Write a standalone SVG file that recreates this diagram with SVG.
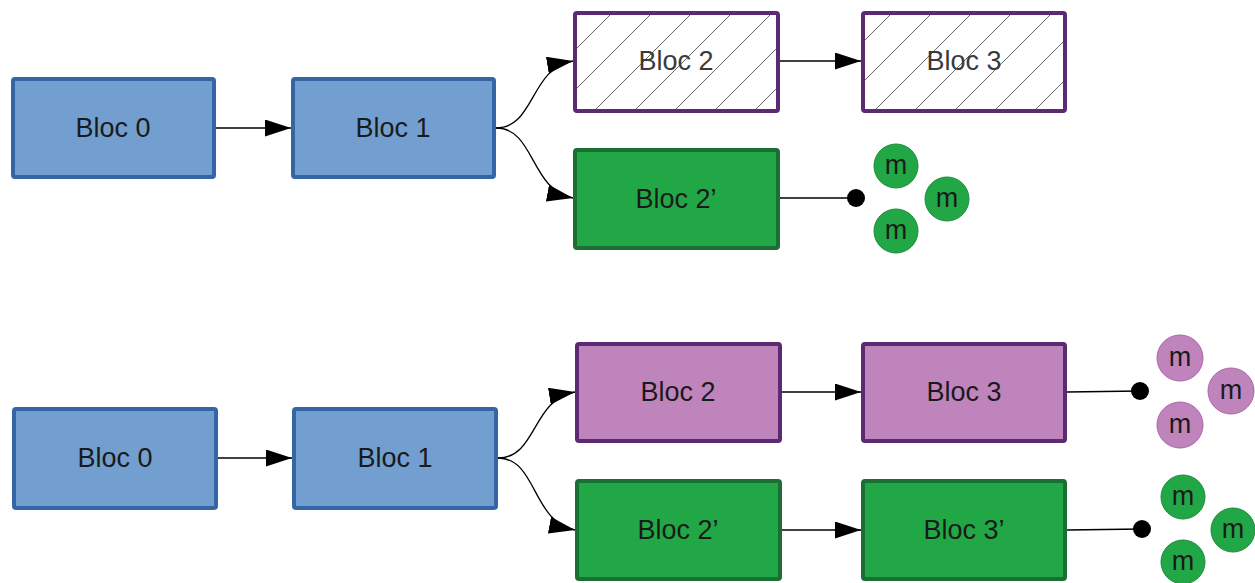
<svg xmlns="http://www.w3.org/2000/svg" width="1255" height="583" viewBox="0 0 1255 583">
<style>
.blue{fill:#729fcf;stroke:#3465a4;stroke-width:4}
.purple{fill:#c084bc;stroke:#5c2a72;stroke-width:4}
.hatch{fill:url(#hatch);stroke:#5c2a72;stroke-width:4}
.green{fill:#22a746;stroke:#1b6e34;stroke-width:4}
.t{font-family:"Liberation Sans",Arial,sans-serif;font-size:27px;fill:#1a1a1a;text-anchor:middle;dominant-baseline:central}
.tg{fill:#3a3a3a}
.m{font-family:"Liberation Sans",Arial,sans-serif;font-size:27px;fill:#1a1a1a;text-anchor:middle;dominant-baseline:central}
.cg{fill:#22a746;stroke:#1e8a3c;stroke-width:1}
.cp{fill:#c084bc;stroke:#a866a4;stroke-width:1}
.c{fill:none;stroke:#000;stroke-width:1.3}
</style>
<defs>
<pattern id="hatch" patternUnits="userSpaceOnUse" x="25" y="0" width="40" height="40">
<path d="M-10,10 L10,-10 M0,40 L40,0 M30,50 L50,30" stroke="#555" stroke-width="0.9"/>
</pattern>
<marker id="arr" markerUnits="userSpaceOnUse" markerWidth="28" markerHeight="18" refX="26" refY="8.5" orient="auto">
<path d="M0,0 L26,8.5 L0,17 z" fill="#000"/>
</marker>
</defs>
<rect width="1255" height="583" fill="#fff"/>
<g id="connectors">
<path class="c" d="M216,128 L291,128" marker-end="url(#arr)"/>
<path class="c" d="M496,128 C535,128 530,68 573,61" marker-end="url(#arr)"/>
<path class="c" d="M496,128 C535,128 530,190 573,198" marker-end="url(#arr)"/>
<path class="c" d="M780,61 L861,61" marker-end="url(#arr)"/>
<path class="c" d="M780,198 L856,198"/>
<circle cx="856" cy="198" r="9" fill="#000"/>
<path class="c" d="M218,458 L292,458" marker-end="url(#arr)"/>
<path class="c" d="M498,458 C537,458 532,399 575,392" marker-end="url(#arr)"/>
<path class="c" d="M498,458 C537,458 532,522 575,530" marker-end="url(#arr)"/>
<path class="c" d="M782,392 L861,392" marker-end="url(#arr)"/>
<path class="c" d="M782,530 L861,530" marker-end="url(#arr)"/>
<path class="c" d="M1067,392 L1140,391"/>
<circle cx="1140" cy="391" r="9" fill="#000"/>
<path class="c" d="M1067,530 L1142,529"/>
<circle cx="1142" cy="529" r="9" fill="#000"/>
</g>
<g id="top-bloc0"><rect class="blue" x="13" y="79" width="201" height="98" rx="2"/><text class="t" x="113" y="128">Bloc 0</text></g>
<g id="top-bloc1"><rect class="blue" x="293" y="79" width="201" height="98" rx="2"/><text class="t" x="393" y="128">Bloc 1</text></g>
<g id="top-bloc2"><rect class="hatch" x="575" y="13" width="203" height="98" rx="2"/><text class="t tg" x="676" y="61">Bloc 2</text></g>
<g id="top-bloc3"><rect class="hatch" x="863" y="13" width="202" height="98" rx="2"/><text class="t tg" x="964" y="61">Bloc 3</text></g>
<g id="top-bloc2p"><rect class="green" x="575" y="150" width="203" height="98" rx="2"/><text class="t" x="676" y="199">Bloc 2’</text></g>
<g id="top-m1"><circle class="cg" cx="896" cy="166" r="22"/><text class="m" x="896" y="165">m</text></g>
<g id="top-m2"><circle class="cg" cx="947" cy="199" r="22"/><text class="m" x="947" y="198">m</text></g>
<g id="top-m3"><circle class="cg" cx="896" cy="231" r="22"/><text class="m" x="896" y="230">m</text></g>
<g id="bot-bloc0"><rect class="blue" x="14" y="409" width="202" height="99" rx="2"/><text class="t" x="115" y="458">Bloc 0</text></g>
<g id="bot-bloc1"><rect class="blue" x="294" y="409" width="202" height="99" rx="2"/><text class="t" x="395" y="458">Bloc 1</text></g>
<g id="bot-bloc2"><rect class="purple" x="577" y="344" width="203" height="97" rx="2"/><text class="t" x="678" y="392">Bloc 2</text></g>
<g id="bot-bloc3"><rect class="purple" x="863" y="344" width="202" height="97" rx="2"/><text class="t" x="964" y="392">Bloc 3</text></g>
<g id="bot-bloc2p"><rect class="green" x="577" y="481" width="203" height="98" rx="2"/><text class="t" x="678" y="530">Bloc 2’</text></g>
<g id="bot-bloc3p"><rect class="green" x="863" y="481" width="202" height="98" rx="2"/><text class="t" x="964" y="530">Bloc 3’</text></g>
<g id="bot-p1"><circle class="cp" cx="1180" cy="358" r="23"/><text class="m" x="1180" y="357">m</text></g>
<g id="bot-p2"><circle class="cp" cx="1231" cy="391" r="23"/><text class="m" x="1231" y="390">m</text></g>
<g id="bot-p3"><circle class="cp" cx="1180" cy="425" r="23"/><text class="m" x="1180" y="424">m</text></g>
<g id="bot-g1"><circle class="cg" cx="1183" cy="497" r="22"/><text class="m" x="1183" y="496">m</text></g>
<g id="bot-g2"><circle class="cg" cx="1233" cy="530" r="22"/><text class="m" x="1233" y="529">m</text></g>
<g id="bot-g3"><circle class="cg" cx="1183" cy="562" r="22"/><text class="m" x="1183" y="561">m</text></g>
</svg>
